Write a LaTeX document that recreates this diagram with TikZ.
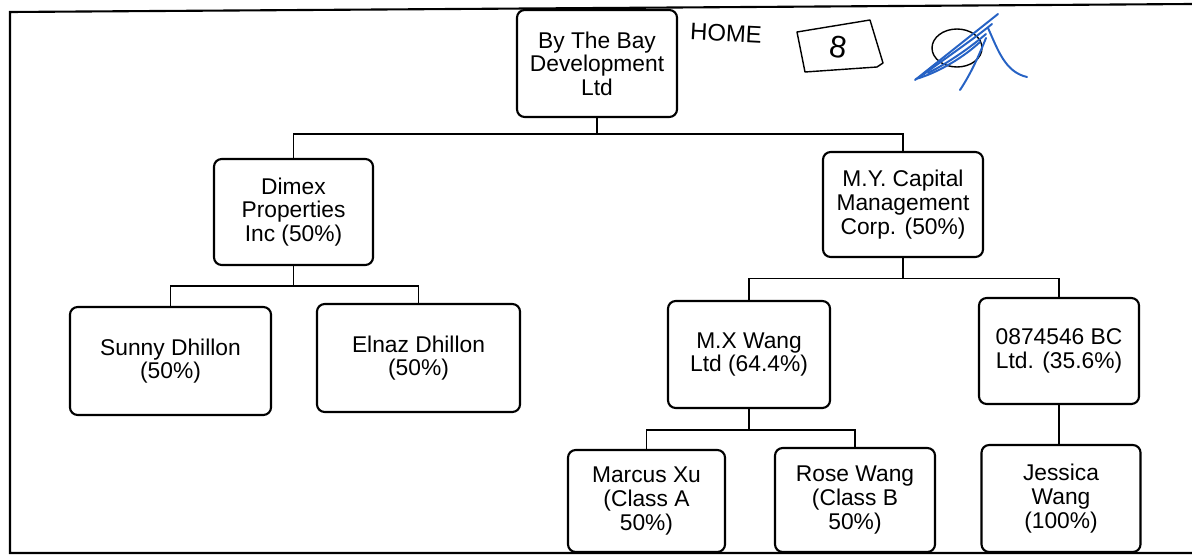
\documentclass[tikz,border=0pt]{standalone}
\usepackage{fontspec}
\setmainfont{Liberation Sans}
\usepackage{tikz}
\usetikzlibrary{positioning, calc}
\usepackage{xcolor}
\definecolor{inkblue}{RGB}{38,98,196}
\newcommand{\orgfont}{\fontsize{16.2}{16.8}\selectfont}
\newcommand{\handfont}{\fontsize{17}{17}\selectfont}

\begin{document}
\begin{tikzpicture}[
    x=0.025cm, y=-0.025cm,
    org/.style={draw, rectangle, rounded corners=5.5pt, line width=1.5pt, align=center, font=\orgfont, inner sep=0pt},
    link/.style={line width=1.3pt},
    hand/.style={line width=1pt, line cap=round, line join=round},
    sig/.style={hand, draw=inkblue, line width=1.4pt}
]
    \useasboundingbox (0,0) rectangle (1192,558);
    \draw[line width=1.5pt] (1192,4) -- (10,12) -- (10,553) -- (1192,553);

    \node[org, minimum width=4cm, minimum height=2.675cm] (bay) at (597,63.5) {By The Bay\\Development\\Ltd};

    \node[org, minimum width=3.975cm, minimum height=2.65cm] (dimex) at (293.5,212) {Dimex\\Properties\\Inc (50\%)};
    \node[org, minimum width=4cm, minimum height=2.625cm] (mycap) at (903,204.5) {M.Y. Capital\\Management\\Corp. (50\%)};

    \node[org, minimum width=5.025cm, minimum height=2.7cm] (sunny) at (170.5,361) {Sunny Dhillon\\(50\%)};
    \node[org, minimum width=5.075cm, minimum height=2.7cm] (elnaz) at (418.5,358) {Elnaz Dhillon\\(50\%)};
    \node[org, minimum width=4.05cm, minimum height=2.675cm] (mxwang) at (749,354.5) {M.X Wang\\Ltd (64.4\%)};
    \node[org, minimum width=4cm, minimum height=2.65cm] (bcltd) at (1059,351) {0874546 BC\\Ltd. (35.6\%)};

    \node[org, minimum width=3.925cm, minimum height=2.55cm] (marcus) at (646.5,501) {Marcus Xu\\(Class A\\50\%)};
    \node[org, minimum width=4cm, minimum height=2.6cm] (rose) at (855,500) {Rose Wang\\(Class B\\50\%)};
    \node[org, minimum width=3.975cm, minimum height=2.675cm] (jessica) at (1061,498.5) {Jessica\\Wang\\(100\%)};

    \draw[link] (bay.south) -- ++(0,16) coordinate (j1) -| (dimex.north);
    \draw[link] (j1) -| (mycap.north);
    \draw[link] (dimex.south) -- ++(0,20) coordinate (j2) -| (sunny.north);
    \draw[link] (j2) -| (elnaz.north);
    \draw[link] (mycap.south) -- ++(0,20.5) coordinate (j3) -| (mxwang.north);
    \draw[link] (j3) -| (bcltd.north);
    \draw[link] (mxwang.south) -- ++(0,21) coordinate (j4) -| (marcus.north);
    \draw[link] (j4) -| (rose.north);
    \draw[link] (bcltd.south) -- (bcltd.south |- jessica.north);

    \node[font=\handfont, rotate=-3] (home) at (726,33) {HOME};
    \draw[hand] (797,32) -- (870,20) -- (883,63) -- (877,67) -- (805,72) -- cycle;
    \node[font=\fontsize{22}{22}\selectfont, rotate=-8] (eight) at (838,47) {8};

    \draw[hand] (957,48) ellipse [x radius=25, y radius=19];
    \draw[sig] (915,80) -- (998,14);
    \draw[sig] (920,77) .. controls (950,55) and (975,38) .. (992,24);
    \draw[sig] (928,73) .. controls (950,62) and (972,46) .. (986,34);
    \draw[sig] (916,79) .. controls (940,72) and (965,56) .. (980,42);
    \draw[sig] (988,28) .. controls (998,50) and (1005,72) .. (1027,77);
    \draw[sig] (986,38) .. controls (978,58) and (970,75) .. (960,90);
\end{tikzpicture}
\end{document}
